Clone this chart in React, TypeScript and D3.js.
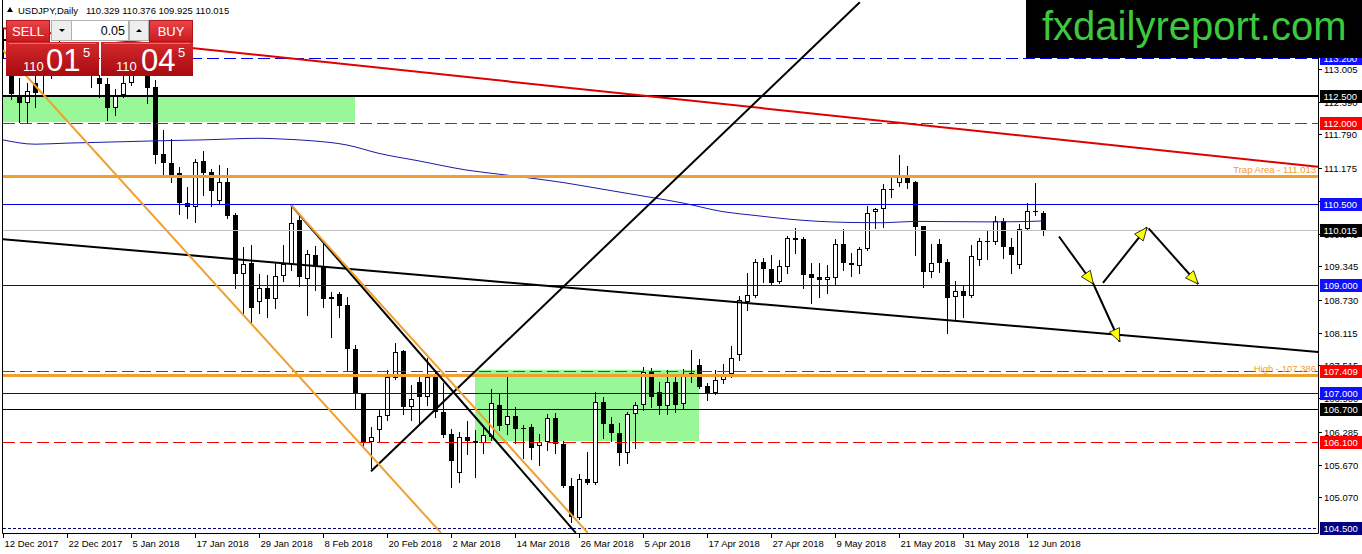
import * as d3 from "d3";

// bar 0 = 12 Dec 2017, one bar per trading day
const dateLabels = [
  "12 Dec 2017", "22 Dec 2017", "5 Jan 2018", "17 Jan 2018", "29 Jan 2018",
  "8 Feb 2018", "20 Feb 2018", "2 Mar 2018", "14 Mar 2018", "26 Mar 2018",
  "5 Apr 2018", "17 Apr 2018", "27 Apr 2018", "9 May 2018", "21 May 2018",
  "31 May 2018", "12 Jun 2018",
];

const opens = [
  113.55, 113.52, 112.52, 112.37, 112.74, 112.9, 113.15, 113.35, 113.35, 113.25,
  113.2, 113.3, 112.84, 112.73, 112.28, 112.52, 112.74, 113.05, 113.1, 112.67,
  111.43, 111.26, 111.08, 110.52, 110.45, 111.3, 111.1, 110.56, 110.91, 110.3,
  109.21, 109.41, 108.69, 108.95, 108.74, 109.17, 109.39, 110.21, 109.11, 109.56,
  109.35, 108.74, 108.83, 108.63, 107.82, 106.98, 106.09, 106.32, 106.58, 107.28,
  107.78, 106.74, 107.2, 106.93, 107.3, 106.65, 106.24, 105.52, 106.19, 106.11,
  106.07, 106.19, 106.78, 106.41, 106.58, 106.35, 106.37, 106.02, 106.09, 106.54,
  106.06, 105.28, 104.69, 105.41, 105.33, 106.83, 106.43, 106.26, 105.89, 106.61,
  106.78, 107.39, 107.02, 106.76, 107.2, 106.8, 107.32, 107.52, 107.13, 107.0,
  107.24, 107.35, 107.7, 108.69, 108.8, 109.43, 109.3, 109.06, 109.34, 109.87,
  109.85, 109.21, 109.15, 109.09, 109.13, 109.76, 109.41, 109.35, 109.67, 110.35,
  110.41, 110.78, 110.89, 111.04, 110.91, 110.09, 109.24, 109.76, 109.43, 108.78,
  108.89, 108.8, 109.46, 109.82, 109.8, 110.19, 109.71, 109.37, 110.04, 110.37,
  110.329,
];
const highs = [
  113.75, 113.6, 112.84, 112.74, 112.87, 113.2, 113.45, 113.6, 113.45, 113.4,
  113.45, 113.4, 112.9, 112.84, 112.63, 112.87, 113.3, 113.3, 113.2, 112.8,
  111.87, 111.71, 111.19, 110.82, 111.34, 111.48, 111.15, 111.22, 111.17, 110.34,
  109.71, 109.74, 109.21, 109.19, 109.41, 109.74, 110.48, 110.28, 109.65, 109.72,
  109.78, 108.87, 108.87, 108.78, 107.89, 107.0, 106.37, 106.69, 107.43, 107.93,
  107.8, 107.15, 107.33, 107.65, 107.43, 107.19, 106.33, 106.28, 106.48, 106.32,
  106.37, 107.07, 106.98, 107.3, 106.74, 106.41, 106.43, 106.24, 106.61, 106.63,
  106.11, 105.43, 105.5, 105.91, 107.02, 106.93, 106.56, 106.45, 106.65, 106.83,
  107.48, 107.46, 107.2, 107.43, 107.3, 107.45, 107.8, 107.63, 107.19, 107.43,
  107.54, 107.87, 108.8, 109.22, 109.48, 109.5, 109.56, 109.46, 109.91, 110.06,
  109.89, 109.41, 109.41, 109.37, 109.85, 110.04, 109.59, 109.71, 110.47, 110.42,
  110.87, 111.0, 111.41, 111.21, 110.92, 110.1, 109.76, 109.85, 109.48, 109.08,
  109.0, 109.74, 109.87, 110.02, 110.28, 110.24, 109.87, 110.13, 110.52, 110.89,
  110.376,
];
const lows = [
  113.2, 112.45, 112.02, 112.02, 112.3, 112.56, 112.84, 113.1, 113.1, 113.05,
  113.05, 112.67, 112.48, 112.06, 112.15, 112.48, 112.7, 112.95, 112.37, 111.26,
  111.04, 110.91, 110.32, 110.24, 110.17, 110.67, 110.47, 110.52, 110.24, 108.95,
  108.48, 108.32, 108.48, 108.41, 108.58, 109.08, 109.28, 108.98, 108.45, 108.91,
  108.59, 108.04, 108.41, 107.43, 106.72, 106.0, 105.61, 106.09, 106.5, 107.26,
  106.61, 106.5, 106.45, 106.78, 106.56, 106.19, 105.26, 105.35, 105.87, 105.44,
  105.89, 106.13, 106.32, 106.24, 106.07, 105.8, 105.78, 105.67, 105.95, 105.89,
  105.26, 104.61, 104.67, 105.32, 105.32, 106.17, 106.11, 105.67, 105.7, 105.98,
  106.69, 106.74, 106.61, 106.61, 106.65, 106.7, 107.2, 107.09, 106.87, 106.99,
  107.19, 107.3, 107.61, 108.54, 108.78, 109.06, 109.0, 109.04, 109.22, 109.59,
  108.95, 108.67, 108.78, 108.85, 109.02, 109.28, 109.17, 109.22, 109.65, 110.06,
  110.08, 110.63, 110.83, 110.8, 109.56, 108.96, 109.15, 109.24, 108.11, 108.35,
  108.41, 108.78, 109.37, 109.48, 109.76, 109.5, 109.22, 109.32, 110.02, 110.3,
  109.925,
];
const closes = [
  113.52, 112.54, 112.37, 112.6, 112.56, 113.15, 113.35, 113.35, 113.25, 113.2,
  113.3, 112.9, 112.73, 112.28, 112.52, 112.74, 113.05, 113.1, 112.65, 111.41,
  111.26, 111.04, 110.52, 110.45, 111.28, 111.08, 110.74, 110.91, 110.28, 109.21,
  109.39, 108.58, 108.95, 108.74, 109.17, 109.39, 110.15, 109.15, 109.58, 109.34,
  108.74, 108.78, 108.61, 107.82, 106.98, 106.09, 106.19, 106.58, 107.3, 107.76,
  106.74, 106.89, 106.93, 107.3, 106.65, 106.22, 105.74, 106.19, 106.11, 106.07,
  106.22, 106.82, 106.39, 106.58, 106.33, 106.33, 105.98, 106.09, 106.54, 106.06,
  105.28, 104.7, 105.41, 105.33, 106.83, 106.43, 106.26, 105.89, 106.61, 106.78,
  107.39, 106.93, 106.76, 107.2, 106.78, 107.32, 107.37, 107.11, 107.0, 107.24,
  107.35, 107.65, 108.72, 108.82, 109.43, 109.3, 109.04, 109.35, 109.87, 109.84,
  109.19, 109.13, 109.09, 109.15, 109.76, 109.41, 109.37, 109.67, 110.34, 110.41,
  110.78, 110.76, 111.04, 110.89, 110.08, 109.24, 109.41, 109.41, 108.76, 108.89,
  108.8, 109.54, 109.82, 109.8, 110.19, 109.71, 109.56, 110.04, 110.37, 110.35,
  110.015,
];

// moving average, read at these bars
const maBars = [0, 4, 8, 12, 16, 20, 25, 29, 32, 35, 38, 43, 47, 52, 58, 62, 65, 70, 75, 81, 85, 90, 94, 98, 102, 106, 110, 114, 119, 124, 130];
const maValues = [
  111.69, 111.61, 111.63, 111.645, 111.66, 111.675, 111.69, 111.71, 111.72, 111.705,
  111.68, 111.595, 111.44, 111.3, 111.13, 111.055, 111.0, 110.9, 110.775, 110.625,
  110.52, 110.36, 110.29, 110.225, 110.18, 110.16, 110.155, 110.18, 110.175, 110.17,
  110.187,
];

const priceTicks = [113.62, 113.005, 112.39, 111.79, 111.175, 110.56, 109.945, 109.345, 108.73, 108.115, 107.515, 106.9, 106.285, 105.67, 105.07];

const levelPrices = [113.2, 112.5, 112.0, 111.013, 110.5, 110.015, 109.0, 107.409, 107.33, 107.0, 106.7, 106.1, 104.5];
const levelNotes = ["", "", "", "Trap Area - 111.013", "", "", "", "", "High - 107.386", "", "", "", ""];
const levelTagged = [true, true, true, false, true, true, true, true, false, true, true, true, true];

// trend lines as [bar, price] pairs
const trendLines: [number, number, number, number][] = [
  [0, 113.76, 164.5, 111.19],
  [0, 109.85, 164.5, 107.76],
  [46, 105.55, 107.1, 114.24],
  [36, 110.48, 71.6, 104.41],
  [0, 113.35, 54.75, 104.41],
  [36, 110.48, 73.1, 104.41],
];
const arrows: [number, number, number, number][] = [
  [132, 109.9, 136.3, 109.02],
  [136.3, 109.02, 139.6, 107.95],
  [137.5, 109.04, 143.0, 110.07],
  [143.2, 110.05, 149.4, 109.02],
];
const zones: [number, number, number, number][] = [
  [0, 112.52, 44, 112.02],
  [59, 107.43, 87, 106.11],
];

const W = 1362;
const H = 554;
const axisX = 1318;
const bottom = 533;

const x = d3.scaleLinear().domain([0, 164.5]).range([3, 1319]);
const y = d3.scaleLinear().domain([104.407, 114.263]).range([bottom, 1]);

const font = "'Liberation Sans', Arial, sans-serif";
const orange = "#f0a030";
const blue = "#0000f0";

const levelLook = [
  { stroke: blue, dash: "12,5", w: 1, tag: "#1010ff" },
  { stroke: "#000", dash: "", w: 2, tag: "#000" },
  { stroke: "#ff0000", dash: "12,5", w: 1, tag: "#ff0000" },
  { stroke: orange, dash: "", w: 3, tag: "" },
  { stroke: blue, dash: "", w: 1, tag: "#1010ff" },
  { stroke: "#c0c0c0", dash: "", w: 1, tag: "#000" },
  { stroke: blue, dash: "", w: 1, tag: "#1010ff" },
  { stroke: "#ff0000", dash: "12,5", w: 1, tag: "#ff0000" },
  { stroke: orange, dash: "", w: 3, tag: "" },
  { stroke: blue, dash: "", w: 1, tag: "#1010ff" },
  { stroke: "#000", dash: "", w: 1, tag: "#000" },
  { stroke: "#ff0000", dash: "12,5", w: 1, tag: "#ff0000" },
  { stroke: "#000080", dash: "3,2", w: 1, tag: "#000080" },
];

const lineColors = ["#e00000", "#000", "#000", "#000", orange, orange];

function arrowHead(x1: number, y1: number, x2: number, y2: number) {
  const dx = x2 - x1;
  const dy = y2 - y1;
  const len = Math.hypot(dx, dy);
  const ux = dx / len;
  const uy = dy / len;
  const L = 13;
  const hw = 5.5;
  const bx = x2 - ux * L;
  const by = y2 - uy * L;
  return `M${x2},${y2}L${bx - uy * hw},${by + ux * hw}L${bx + uy * hw},${by - ux * hw}Z`;
}

const maPath = d3
  .line<number>()
  .x((_, k) => x(maBars[k]))
  .y((v) => y(v))
  .curve(d3.curveMonotoneX)(maValues);

const App = () => {
  return (
    <svg
      width={W}
      height={H}
      style={{ position: "fixed", left: 0, top: 0, background: "#fff" }}
      fontFamily={font}
    >
      <defs>
        <clipPath id="plot">
          <rect x={3} y={0} width={axisX - 3} height={bottom} />
        </clipPath>
        <linearGradient id="btn" x1="0" y1="0" x2="0" y2="1">
          <stop offset="0" stopColor="#ea4448" />
          <stop offset="1" stopColor="#c81c20" />
        </linearGradient>
        <linearGradient id="big" x1="0" y1="0" x2="0" y2="1">
          <stop offset="0" stopColor="#d42a2e" />
          <stop offset="1" stopColor="#a80a0e" />
        </linearGradient>
      </defs>
      <rect width={W} height={H} fill="#fff" />

      <g clipPath="url(#plot)">
        {zones.map(([a, p1, b, p2], k) => (
          <rect key={k} x={x(a)} y={y(p1)} width={x(b) - x(a)} height={y(p2) - y(p1)} fill="#98f898" />
        ))}

        {/* candles */}
        {opens.map((o, i) => {
          const cx = Math.round(x(i));
          return (
            <line key={"w" + i} x1={cx + 0.5} x2={cx + 0.5} y1={Math.round(y(highs[i]))} y2={Math.round(y(lows[i])) + 1} stroke="#000" />
          );
        })}
        {opens.map((o, i) => {
          const c = closes[i];
          const cx = Math.round(x(i));
          const top = Math.round(y(Math.max(o, c)));
          const h = Math.max(1, Math.round(y(Math.min(o, c))) - top);
          if (c < o) {
            return <rect key={"b" + i} x={cx - 2} y={top} width={5} height={h} fill="#000" />;
          }
          return (
            <rect key={"b" + i} x={cx - 1.5} y={top + 0.5} width={4} height={Math.max(0.5, h - 1)} fill="#fff" stroke="#000" />
          );
        })}

        {/* moving average */}
        <path d={maPath ?? ""} fill="none" stroke="#1a1aa8" strokeWidth={1} />

        {/* horizontal levels */}
        {levelPrices.map((p, k) => {
          const lk = levelLook[k];
          const yy = lk.w % 2 === 1 ? Math.round(y(p)) + 0.5 : Math.round(y(p));
          return (
            <line key={"l" + k} x1={3} x2={axisX} y1={yy} y2={yy} stroke={lk.stroke} strokeWidth={lk.w} strokeDasharray={lk.dash || undefined} />
          );
        })}

        {/* trend lines */}
        {trendLines.map(([a, p1, b, p2], k) => (
          <line key={"t" + k} x1={x(a)} y1={y(p1)} x2={x(b)} y2={y(p2)} stroke={lineColors[k]} strokeWidth={2} />
        ))}

        {/* projection arrows */}
        {arrows.map(([a, p1, b, p2], k) => {
          const x1 = x(a), y1 = y(p1), x2 = x(b), y2 = y(p2);
          return (
            <g key={"a" + k}>
              <line x1={x1} y1={y1} x2={x2} y2={y2} stroke="#000" strokeWidth={2} />
              <path d={arrowHead(x1, y1, x2, y2)} fill="#ffff00" stroke="#000" strokeWidth={0.8} />
            </g>
          );
        })}

        {levelPrices.map((p, k) =>
          levelNotes[k] ? (
            <text key={"n" + k} x={axisX - 2} y={y(p) - 3} textAnchor="end" fontSize={9.5} fill={orange}>
              {levelNotes[k]}
            </text>
          ) : null
        )}
      </g>

      {/* frame */}
      <line x1={2.5} x2={2.5} y1={0} y2={bottom + 0.5} stroke="#000" />
      <line x1={axisX + 0.5} x2={axisX + 0.5} y1={0} y2={bottom + 0.5} stroke="#000" />
      <line x1={2.5} x2={axisX + 0.5} y1={bottom + 0.5} y2={bottom + 0.5} stroke="#000" />

      {/* price axis */}
      {priceTicks.map((p) => {
        const yy = Math.round(y(p)) + 0.5;
        return (
          <g key={"pt" + p}>
            <line x1={axisX} x2={axisX + 4} y1={yy} y2={yy} stroke="#000" />
            <text x={1324} y={yy + 3.5} fontSize={9.5} fill="#000">
              {p.toFixed(3)}
            </text>
          </g>
        );
      })}
      {levelPrices.map((p, k) => {
        if (!levelTagged[k]) return null;
        const yy = Math.round(y(p));
        return (
          <g key={"tag" + k}>
            <rect x={1320} y={yy - 6} width={42} height={13} fill={levelLook[k].tag} />
            <text x={1323.5} y={yy + 4} fontSize={9.5} fill="#fff">
              {p.toFixed(3)}
            </text>
          </g>
        );
      })}

      {/* date axis */}
      {dateLabels.map((d, k) => {
        const xx = Math.round(x(k * 8)) + 0.5;
        return (
          <g key={d}>
            <line x1={xx} x2={xx} y1={bottom} y2={bottom + 5} stroke="#000" />
            <text x={xx + 1} y={547} fontSize={9.5} fill="#000">
              {d}
            </text>
          </g>
        );
      })}

      {/* header */}
      <path d="M7,12L10,7L13,12Z" fill="#000" />
      <text x={18} y={13.5} fontSize={9.5} fill="#000">USDJPY,Daily</text>
      <text x={86} y={13.5} fontSize={9.5} fill="#000">110.329 110.376 109.925 110.015</text>

      {/* one-click trading panel */}
      <g>
        <rect x={6.5} y={20.5} width={43} height={21} fill="url(#btn)" stroke="#b01418" />
        <text x={28} y={36} fontSize={13} fill="#fff" textAnchor="middle">SELL</text>
        <rect x={51.5} y={20.5} width={20} height={20} fill="#eeeeee" stroke="#b0b0b0" />
        <path d="M59,29L65,29L62,32Z" fill="#000" />
        <rect x={71.5} y={20.5} width={57} height={20} fill="#fff" stroke="#b0b0b0" />
        <text x={125} y={35} fontSize={12.5} fill="#000" textAnchor="end">0.05</text>
        <rect x={129.5} y={20.5} width={19} height={20} fill="#eeeeee" stroke="#b0b0b0" />
        <path d="M136,32L142,32L139,29Z" fill="#000" />
        <rect x={149.5} y={20.5} width={43} height={21} fill="url(#btn)" stroke="#b01418" />
        <text x={171} y={36} fontSize={13} fill="#fff" textAnchor="middle">BUY</text>

        <rect x={6} y={42} width={93} height={34} fill="url(#big)" />
        <rect x={101} y={42} width={92} height={34} fill="url(#big)" />
        <line x1={9} x2={96} y1={43.5} y2={43.5} stroke="#e67074" />
        <line x1={104} x2={190} y1={43.5} y2={43.5} stroke="#e67074" />
        <text x={23} y={71} fontSize={13} fill="#fff">110</text>
        <text x={46} y={71} fontSize={31} fill="#fff">01</text>
        <text x={83} y={57} fontSize={13} fill="#fff">5</text>
        <text x={116} y={71} fontSize={13} fill="#fff">110</text>
        <text x={141} y={71} fontSize={31} fill="#fff">04</text>
        <text x={178} y={57} fontSize={13} fill="#fff">5</text>
      </g>

      {/* site banner */}
      <rect x={1026} y={0} width={W - 1026} height={58} fill="#000" />
      <text x={1042} y={40} fontSize={40} fill="#3ec83e" fontFamily="'Liberation Sans', Arial, sans-serif">
        fxdailyreport.com
      </text>
    </svg>
  );
};

export default App;
